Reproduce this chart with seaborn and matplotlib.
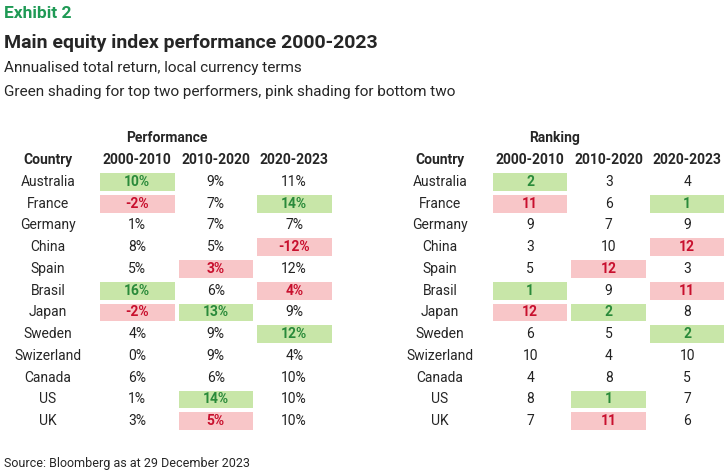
import matplotlib
matplotlib.use("Agg")
import matplotlib.pyplot as plt
import numpy as np
import seaborn as sns
from matplotlib.colors import ListedColormap

countries = ["Australia", "France", "Germany", "China", "Spain", "Brasil", "Japan",
             "Sweden", "Swizerland", "Canada", "US", "UK"]
periods = ["2000-2010", "2010-2020", "2020-2023"]
perf_2000_2010 = [10, -2, 1, 8, 5, 16, -2, 4, 0, 6, 1, 3]
perf_2010_2020 = [9, 7, 7, 5, 3, 6, 13, 9, 9, 6, 14, 5]
perf_2020_2023 = [11, 14, 7, -12, 12, 4, 9, 12, 4, 10, 10, 10]
rank_2000_2010 = [2, 11, 9, 3, 5, 1, 12, 6, 10, 4, 8, 7]
rank_2010_2020 = [3, 6, 7, 10, 12, 9, 2, 5, 4, 8, 1, 11]
rank_2020_2023 = [4, 1, 9, 12, 3, 11, 8, 2, 10, 5, 7, 6]

perf = np.array([perf_2000_2010, perf_2010_2020, perf_2020_2023]).T
rank = np.array([rank_2000_2010, rank_2010_2020, rank_2020_2023]).T
shade = np.where(rank <= 2, 1, np.where(rank >= 11, -1, 0))

PINK, GREEN = "#f8c6c8", "#c8e6a8"
RED_TXT, GREEN_TXT = "#c8102e", "#2a8a3a"
cmap = ListedColormap([PINK, "white", GREEN])

sns.set_theme(style="white")
plt.rcParams["font.family"] = ["Roboto", "DejaVu Sans"]
W, H = 725, 471
fig = plt.figure(figsize=(W / 100, H / 100), dpi=100)
bg = fig.add_axes([0, 0, 1, 1])
bg.set_xlim(0, W)
bg.set_ylim(H, 0)
bg.axis("off")

bg.text(4, 13, "Exhibit 2", color="#1f9a55", fontsize=12.5, fontweight="bold", va="center")
bg.text(4, 43, "Main equity index performance 2000-2023", fontsize=14, fontweight="bold", va="center")
bg.text(4, 68, "Annualised total return, local currency terms", fontsize=11, va="center")
bg.text(4, 92, "Green shading for top two performers, pink shading for bottom two", fontsize=11, va="center")
bg.text(4, 463, "Source: Bloomberg as at 29 December 2023", fontsize=9, va="center")


def draw_table(x0, x_country, title, title_x, values, fmt):
    cw, top, rh = 78.5, 171, 21.75
    ax = fig.add_axes([x0 / W, 1 - (top + rh * 12) / H, cw * 3 / W, rh * 12 / H])
    sns.heatmap(shade, cmap=cmap, vmin=-1.5, vmax=1.5, cbar=False, ax=ax,
                linewidths=1.5, linecolor="white")
    ax.axis("off")
    for i in range(12):
        for j in range(3):
            s = shade[i, j]
            col = GREEN_TXT if s == 1 else RED_TXT if s == -1 else "#222222"
            ax.text(j + 0.5, i + 0.5, fmt(values[i, j]), ha="center", va="center",
                    fontsize=10, color=col, fontweight="bold" if s else "normal")
        bg.text(x_country, top + rh * (i + 0.5), countries[i], ha="center", va="center", fontsize=10)
    bg.text(x_country, 160, "Country", ha="center", va="center", fontsize=10, fontweight="bold")
    for j, p in enumerate(periods):
        bg.text(x0 + cw * (j + 0.5), 160, p, ha="center", va="center", fontsize=10, fontweight="bold")
    bg.text(title_x, 138, title, ha="center", va="center", fontsize=10, fontweight="bold")


draw_table(98, 48, "Performance", 167, perf, lambda v: f"{v}%")
draw_table(491, 440, "Ranking", 555, rank, lambda v: f"{v}")

fig.savefig("out.png", dpi=100)
